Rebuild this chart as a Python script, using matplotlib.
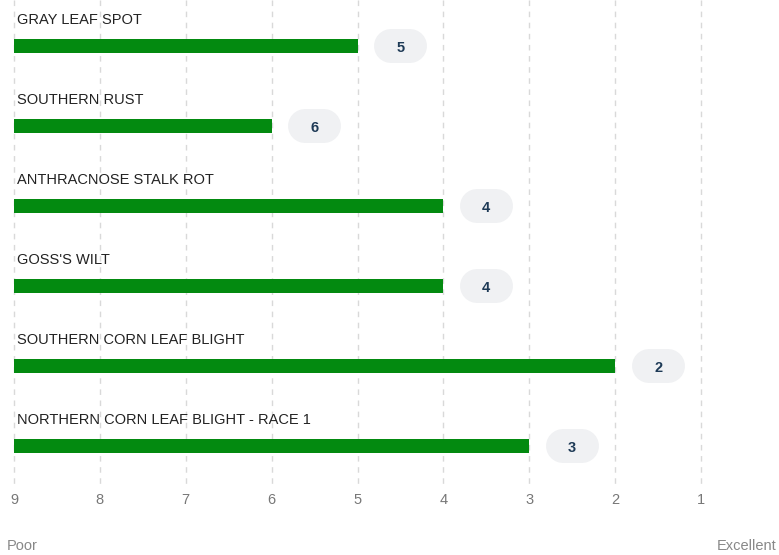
import matplotlib
matplotlib.use("Agg")
from matplotlib import pyplot as plt

plt.rcParams["font.family"] = ["Liberation Sans", "DejaVu Sans"]

# disease ratings (1 = excellent, 9 = poor)
diseases = [
    "GRAY LEAF SPOT",
    "SOUTHERN RUST",
    "ANTHRACNOSE STALK ROT",
    "GOSS'S WILT",
    "SOUTHERN CORN LEAF BLIGHT",
    "NORTHERN CORN LEAF BLIGHT - RACE 1",
]
ratings = [5, 6, 4, 4, 2, 3]
ticks = [9, 8, 7, 6, 5, 4, 3, 2, 1]

green = "#038a10"
grid_c = "#d9d9d9"

fig = plt.figure(figsize=(7.79, 5.55), dpi=100)
ax = fig.add_axes([0, 0, 1, 1])
ax.set_xlim(9.163, 0.092)
ax.set_ylim(6.3625, -0.575)
ax.axis("off")

# dashed gridlines + tick numbers
for t in ticks:
    ax.plot([t, t], [-0.575, 5.49], color=grid_c, lw=1, ls=(0, (4, 4)), zorder=0)
    ax.text(t, 5.67, str(t), ha="center", va="center", fontsize=10.5, color="#777777")

px = 85.875  # x pixels per unit
half = (53 - 34) / 2 / px  # pill half length (flat part)
pill_lw = 34 * 72 / 100  # 34 px tall pill
for i, (name, val) in enumerate(zip(diseases, ratings)):
    ax.barh(i, 9 - val, left=val, height=0.175, color=green, zorder=2)
    ax.text(8.965, i - 0.33, name, ha="left", va="center", fontsize=10.5, color="#222222")
    cx = val - 0.5
    # pill badge: thick line with round caps
    ax.plot([cx - half, cx + half], [i, i], color="#f0f1f3", lw=pill_lw,
            solid_capstyle="round", zorder=2)
    ax.text(cx, i + 0.02, str(val), ha="center", va="center", fontsize=10.5,
            fontweight="bold", color="#1e3a56", zorder=3)

fig.text(7 / 779, 1 - 546 / 555, "Poor", ha="left", va="center", fontsize=10.5, color="#888888")
fig.text(777 / 779, 1 - 546 / 555, "Excellent", ha="right", va="center", fontsize=10.5, color="#888888")

fig.savefig("out.png", dpi=100)
